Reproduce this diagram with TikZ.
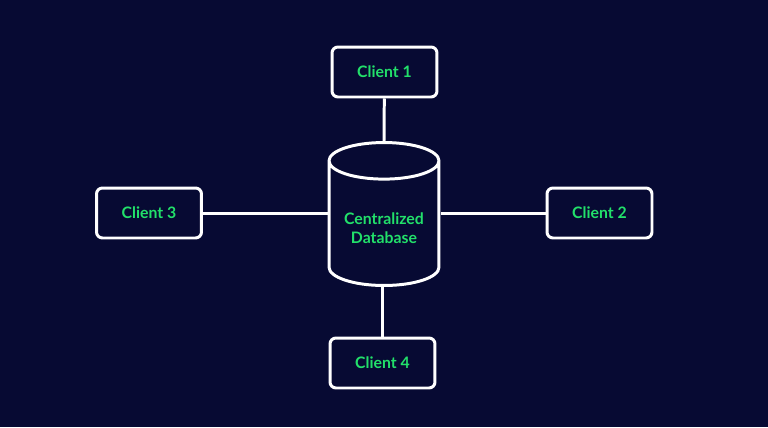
\documentclass[tikz,border=0pt]{standalone}
\usepackage{fontspec}
\setmainfont{Lato}
\usetikzlibrary{shapes.geometric}
\definecolor{navy}{HTML}{070A33}
\definecolor{mint}{HTML}{22E06A}
\tikzstyle{client}=[%
	draw = white, line width = 1.7pt, rounded corners = 0.12cm,
	minimum width = 2.1cm, minimum height = 1cm,
	text = mint, font = \bfseries\small
]
\tikzstyle{link}=[draw = white, line width = 1.7pt]

\begin{document}
\begin{tikzpicture}[x=0.02cm, y=-0.02cm]
	% Background
	\fill[navy] (0,0) rectangle (768,427);

	% Database
	\node[cylinder, shape border rotate=90, aspect=0.4, draw=white, line width=1.7pt,
		minimum width=2.2cm, minimum height=2.86cm, text=mint, font=\bfseries\small,
		align=center] (db) at (384,228) {Centralized\\Database};

	% Clients
	\node[client] (c1) at (384.5,72) {Client 1};
	\node[client] (c2) at (599.5,213) {Client 2};
	\node[client] (c3) at (149,213) {Client 3};
	\node[client] (c4) at (382.5,363) {Client 4};

	% Links
	\draw[link] (c1) -- (db.top);
	\draw[link] (c4) -- (c4 |- db.bottom);
	\draw[link] (c3) -- (c3 -| db.west);
	\draw[link] (c2) -- (c2 -| db.east);
\end{tikzpicture}
\end{document}
